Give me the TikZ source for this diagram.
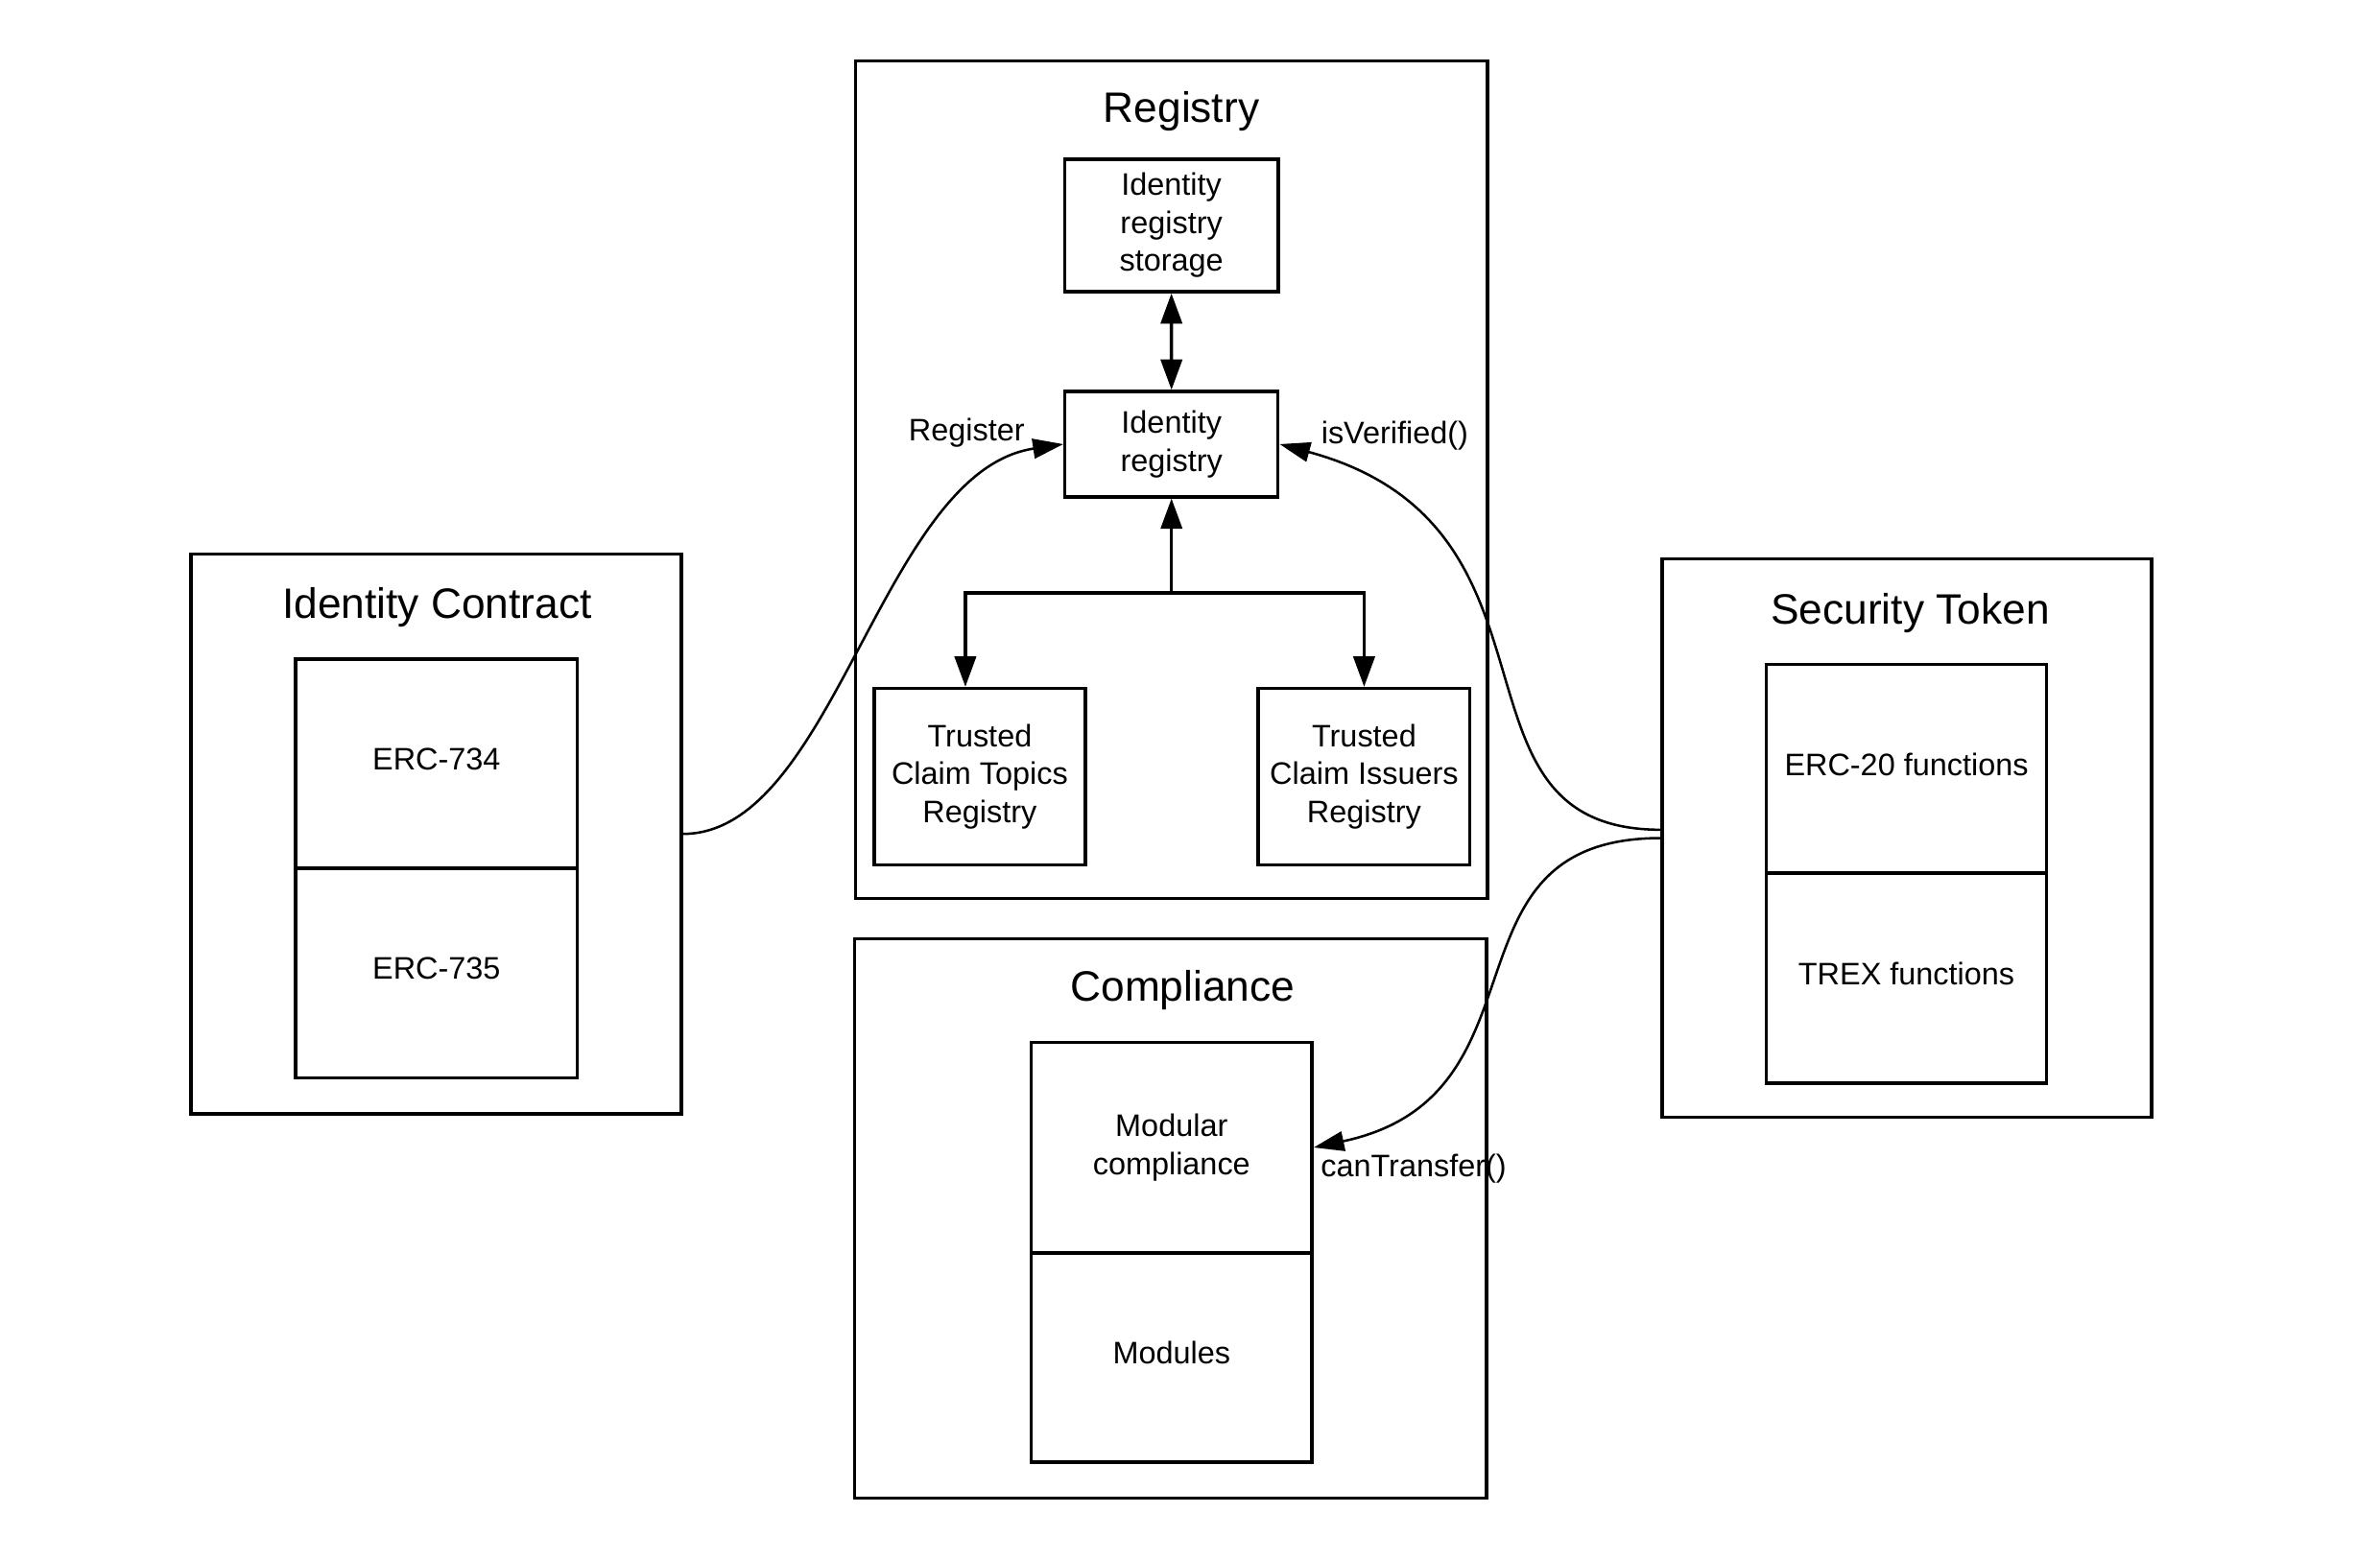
\documentclass[tikz,border=0pt]{standalone}
\usepackage{fontspec}
\setmainfont{Liberation Sans}
\usetikzlibrary{positioning, calc, arrows.meta}
\tikzstyle{Box} = [draw, line width=2.2pt, inner sep=0pt, align=center,
font=\fontsize{20.5}{25}\selectfont]
\tikzstyle{Half} = [Box, text depth=6pt]
\tikzstyle{Title} = [anchor=base, font=\fontsize{28}{32}\selectfont]
\tikzstyle{Label} = [inner sep=0pt, font=\fontsize{20.5}{25}\selectfont]
\tikzstyle{Arrow} = [line width=2.2pt, -{Triangle[length=20pt, width=14pt]}]
\tikzstyle{DArrow} = [line width=2.2pt,
{Triangle[length=20pt, width=14pt]}-{Triangle[length=20pt, width=14pt]}]
\tikzstyle{Curve} = [line width=1.6pt, -{Triangle[length=20pt, width=13pt]}]

\begin{document}
\begin{tikzpicture}[x=1pt, y=-1pt]
    \useasboundingbox (0,0) rectangle (1568,1028);
    \node [Box, minimum width=322.9pt, minimum height=368.7pt] (ic) at (287.35,549.55) {};
    \node [Title] at (288,407.7) {Identity Contract};
    \node [Half, minimum width=185.5pt, minimum height=137.7pt] (erc734) at (287.55,503.35) {ERC-734};
    \node [Half, minimum width=185.5pt, minimum height=138pt, below=-2.2pt of erc734] (erc735) {ERC-735};
    \node [Box, minimum width=416.5pt, minimum height=551.9pt] (reg) at (771.75,316.05) {};
    \node [Title] at (778.3,80.5) {Registry};
    \node [Box, minimum width=140.7pt, minimum height=87.2pt] (irs) at (771.75,148.6) {Identity\\registry\\storage};
    \node [Box, minimum width=140.4pt, minimum height=69.4pt] (ir) at (771.8,292.7) {Identity\\registry};
    \node [Box, minimum width=139pt, minimum height=116.2pt] (tct) at (645.5,511.8) {Trusted\\Claim Topics\\Registry};
    \node [Box, minimum width=139.4pt, minimum height=116.2pt] (tci) at (898.7,511.8) {Trusted\\Claim Issuers\\Registry};
    \node [Box, minimum width=416.5pt, minimum height=368.9pt] (comp) at (771.25,802.95) {};
    \node [Title] at (779.2,659.7) {Compliance};
    \node [Box, minimum width=185.1pt, minimum height=138.8pt] (mc) at (771.85,756.2) {Modular\\compliance};
    \node [Half, minimum width=185.1pt, minimum height=138pt, below=-2.2pt of mc] (mods) {Modules};
    \node [Box, minimum width=322.2pt, minimum height=368.2pt] (st) at (1256.3,552.3) {};
    \node [Title] at (1258.5,411) {Security Token};
    \node [Half, minimum width=184.8pt, minimum height=137.5pt] (erc20) at (1256,506.45) {ERC-20 functions};
    \node [Half, minimum width=184.8pt, minimum height=138.7pt, below=-2.2pt of erc20] (trex) {TREX functions};
    \coordinate (fork) at (771.8,390.7);
    \draw[DArrow] (irs.south) -- (ir.north);
    \draw[Arrow] (fork) -- (ir.south);
    \draw[Arrow] (fork) -| ([xshift=-9.5pt]tct.north);
    \draw[Arrow] (fork) -| (tci.north);
    \draw[Curve] (ic.east) .. controls +(100,0) and +(-120,18) .. (ir.west);
    \draw[Curve] ([yshift=5.5pt]st.west) .. controls +(-150,0) and +(200,54) .. (ir.east);
    \draw[Curve] (st.west) .. controls +(-150,0) and +(160,-34) .. (mc.east);
    \node [Label, anchor=base east] (lreg) at (675.2,290.5) {Register};
    \node [Label, anchor=base west] (lver) at (870.3,292.4) {isVerified()};
    \node [Label, anchor=base west] (ltr) at (870,775.6) {canTransfer()};
\end{tikzpicture}
\end{document}
